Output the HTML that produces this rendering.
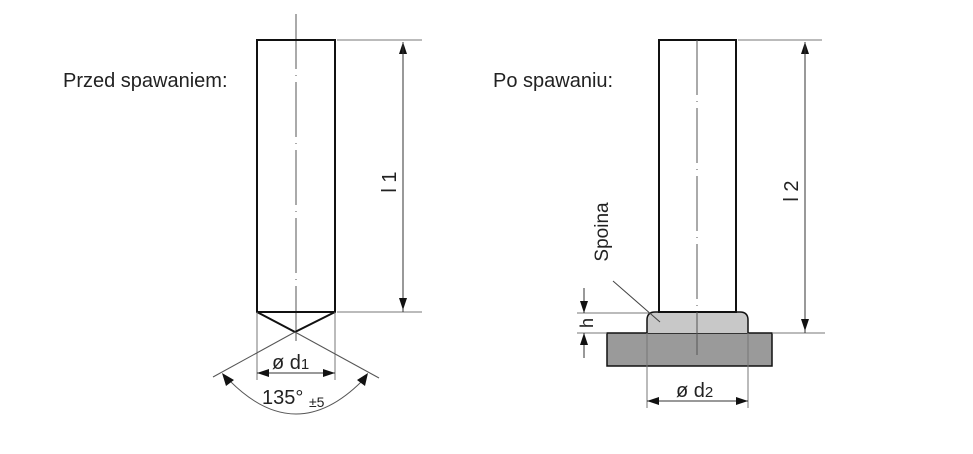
<!DOCTYPE html>
<html><head><meta charset="utf-8"><style>
html,body{margin:0;padding:0;background:#fff;}
svg{display:block;font-family:"Liberation Sans","DejaVu Sans",sans-serif;}
</style></head><body>
<svg width="973" height="454" viewBox="0 0 973 454" xmlns="http://www.w3.org/2000/svg">
<defs>
<marker id="a" markerWidth="12" markerHeight="8" refX="12" refY="4" orient="auto" markerUnits="userSpaceOnUse"><path d="M0,0 L12,4 L0,8 z" fill="#111"/></marker>
</defs>
<text x="63" y="87" font-size="20" fill="#222">Przed spawaniem:</text>
<text x="493" y="87" font-size="20" fill="#222">Po spawaniu:</text>

<!-- left rod -->
<line x1="296" y1="14" x2="296" y2="345" stroke="#555" stroke-width="1" stroke-dasharray="55,6,1,6"/>
<path d="M257,312 L257,40 L335,40 L335,312 Z M257,312 L295,332 L335,312" fill="none" stroke="#111" stroke-width="2"/>
<line x1="337" y1="40" x2="422" y2="40" stroke="#777" stroke-width="1"/>
<line x1="337" y1="312" x2="422" y2="312" stroke="#777" stroke-width="1"/>
<line x1="403" y1="312" x2="403" y2="42" stroke="#333" stroke-width="1" marker-end="url(#a)"/>
<line x1="403" y1="42" x2="403" y2="310" stroke="#333" stroke-width="1" marker-end="url(#a)"/>
<text transform="translate(396,182) rotate(-90)" font-size="20" text-anchor="middle" fill="#222">l 1</text>
<line x1="257" y1="312" x2="257" y2="380" stroke="#777" stroke-width="1"/>
<line x1="335" y1="312" x2="335" y2="380" stroke="#777" stroke-width="1"/>
<line x1="296" y1="373" x2="257" y2="373" stroke="#333" stroke-width="1" marker-end="url(#a)"/>
<line x1="296" y1="373" x2="335" y2="373" stroke="#333" stroke-width="1" marker-end="url(#a)"/>
<text x="272" y="369" font-size="20" fill="#222">ø d<tspan font-size="15">1</tspan></text>
<line x1="295" y1="332" x2="213" y2="377" stroke="#555" stroke-width="1"/>
<line x1="295" y1="332" x2="379" y2="378" stroke="#555" stroke-width="1"/>
<path d="M227,378 Q296,450 365,378" fill="none" stroke="#555" stroke-width="1"/>
<path d="M222,373 L234,380 L226,386 Z M368,373 L357,380 L365,386 Z" fill="#111"/>
<text x="262" y="404" font-size="20" fill="#222">135°</text>
<text x="309" y="407" font-size="14" fill="#222">±5</text>

<!-- right -->
<rect x="607" y="333" width="165" height="33" fill="#9a9a9a" stroke="#111" stroke-width="1.5"/>
<path d="M647,333 L647,320 Q647,312 655,312 L740,312 Q748,312 748,320 L748,333" fill="#c8c8c8" stroke="#111" stroke-width="1.5"/>
<rect x="659" y="40" width="77" height="272" fill="none" stroke="#111" stroke-width="2"/>
<line x1="697" y1="40" x2="697" y2="355" stroke="#555" stroke-width="1" stroke-dasharray="55,6,1,6"/>
<line x1="738" y1="40" x2="822" y2="40" stroke="#777" stroke-width="1"/>
<line x1="772" y1="333" x2="825" y2="333" stroke="#777" stroke-width="1"/>
<line x1="805" y1="333" x2="805" y2="42" stroke="#333" stroke-width="1" marker-end="url(#a)"/>
<line x1="805" y1="42" x2="805" y2="331" stroke="#333" stroke-width="1" marker-end="url(#a)"/>
<text transform="translate(798,191) rotate(-90)" font-size="20" text-anchor="middle" fill="#222">l 2</text>
<line x1="577" y1="313" x2="650" y2="313" stroke="#777" stroke-width="1"/>
<line x1="577" y1="333" x2="607" y2="333" stroke="#777" stroke-width="1"/>
<line x1="584" y1="288" x2="584" y2="313" stroke="#333" stroke-width="1" marker-end="url(#a)"/>
<line x1="584" y1="358" x2="584" y2="333" stroke="#333" stroke-width="1" marker-end="url(#a)"/>
<text transform="translate(593,323) rotate(-90)" font-size="18" text-anchor="middle" fill="#222">h</text>
<line x1="613" y1="281" x2="660" y2="322" stroke="#444" stroke-width="1"/>
<text transform="translate(608,232) rotate(-90)" font-size="19" text-anchor="middle" fill="#222">Spoina</text>
<line x1="647" y1="333" x2="647" y2="408" stroke="#777" stroke-width="1"/>
<line x1="748" y1="333" x2="748" y2="408" stroke="#777" stroke-width="1"/>
<line x1="697" y1="401" x2="647" y2="401" stroke="#333" stroke-width="1" marker-end="url(#a)"/>
<line x1="697" y1="401" x2="748" y2="401" stroke="#333" stroke-width="1" marker-end="url(#a)"/>
<text x="676" y="397" font-size="20" fill="#222">ø d<tspan font-size="15">2</tspan></text>
</svg>
</body></html>
